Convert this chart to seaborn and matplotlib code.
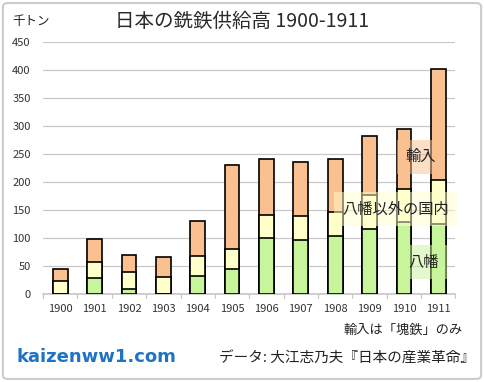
import numpy as np
import pandas as pd
import matplotlib
matplotlib.use("Agg")
import matplotlib.pyplot as plt
import seaborn as sns
from matplotlib.patches import FancyBboxPatch

# 日本の銑鉄供給高 (千トン)
years = ["1900", "1901", "1902", "1903", "1904", "1905",
         "1906", "1907", "1908", "1909", "1910", "1911"]
yawata = [0, 29, 10, 0, 32, 45, 100, 96, 103, 116, 128, 125]
domestic_other = [23, 28, 29, 30, 36, 36, 41, 43, 43, 61, 60, 79]
imports = [21, 41, 30, 37, 63, 149, 101, 97, 95, 106, 106, 197]

sns.set_theme(style="white")
plt.rcParams["font.family"] = ["Noto Sans CJK JP", "DejaVu Sans"]

df = pd.DataFrame({"year": years, "yawata": yawata,
                   "other": domestic_other, "imports": imports})
df["lower2"] = df["yawata"] + df["other"]
df["total"] = df["lower2"] + df["imports"]

c_green = "#c8f59c"
c_yellow = "#ffffcc"
c_orange = "#fac090"

fig = plt.figure(figsize=(4.84, 3.82), dpi=100)
ax = fig.add_axes([0.089, 0.230, 0.852, 0.660])

kw = dict(edgecolor="black", linewidth=1.2, width=0.43, zorder=3)
sns.barplot(data=df, x="year", y="total", color=c_orange, saturation=1, ax=ax, **kw)
sns.barplot(data=df, x="year", y="lower2", color=c_yellow, saturation=1, ax=ax, **kw)
sns.barplot(data=df, x="year", y="yawata", color=c_green, saturation=1, ax=ax, **kw)

ax.set_ylim(0, 450)
ax.set_xlim(-0.5, len(years) - 0.5)
ax.set_yticks(np.arange(0, 451, 50))
ax.yaxis.grid(True, color="#c8c8c8", linewidth=0.9, zorder=0)
ax.set_axisbelow(True)
ax.set_xlabel("")
ax.set_ylabel("")
for s in ["top", "right", "left"]:
    ax.spines[s].set_visible(False)
ax.spines["bottom"].set_color("#c8c8c8")
ax.tick_params(axis="y", length=0, labelsize=8, colors="#333333", pad=9)
ax.tick_params(axis="x", length=0, labelsize=8, colors="#333333", pad=7)
for b in np.arange(-0.5, len(years), 1):
    ax.plot([b, b], [0, -7], color="#c8c8c8", lw=0.9, clip_on=False)

# series labels
lab = dict(fontsize=11, ha="center", va="center", zorder=5, color="#222222")
ax.text(10.5, 245, "輸入", **lab,
        bbox=dict(boxstyle="square,pad=0.55", fc=c_orange, ec="none", alpha=0.5))
ax.text(9.77, 152, "八幡以外の国内", **lab,
        bbox=dict(boxstyle="square,pad=0.55", fc=c_yellow, ec="none", alpha=0.5))
ax.text(10.58, 57, "八幡", **lab,
        bbox=dict(boxstyle="square,pad=0.55", fc=c_green, ec="none", alpha=0.5))

fig.text(0.5, 0.945, "日本の銑鉄供給高 1900-1911", fontsize=14, ha="center",
         va="center", color="#2a2a2a")
fig.text(0.025, 0.945, "千トン", fontsize=9, ha="left", va="center", color="#222222")
fig.text(0.957, 0.135, "輸入は「塊鉄」のみ", fontsize=9.5, ha="right", va="center",
         color="#222222")
fig.text(0.035, 0.065, "kaizenww1.com", fontsize=13, fontweight="bold",
         ha="left", va="center", color="#1f72c4", family="DejaVu Sans")
fig.text(0.982, 0.062, "データ: 大江志乃夫『日本の産業革命』", fontsize=10.5, ha="right",
         va="center", color="#222222")

frame = FancyBboxPatch((0.006, 0.008), 0.988, 0.984, boxstyle="round,pad=0,rounding_size=0.01",
                       transform=fig.transFigure, fc="none", ec="#cccccc", lw=1.5)
fig.patches.append(frame)

fig.savefig("out.png", dpi=100)
